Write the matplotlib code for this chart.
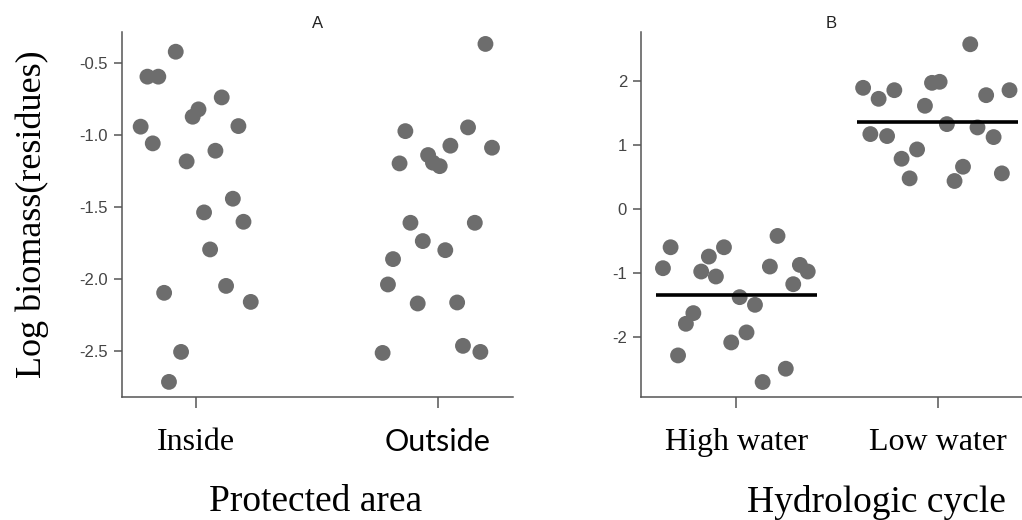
import numpy as np
import matplotlib
matplotlib.use("Agg")
import matplotlib.pyplot as plt

plt.rcParams['axes.unicode_minus'] = False

# panel A: protected area (x = jittered category position, y = residue)
cats_a = ["Inside", "Outside"]
inside_x = [-0.229, -0.201, -0.156, -0.084, -0.179, -0.014, 0.010, 0.106, -0.039, 0.175,
            0.080, 0.152, 0.033, 0.196, 0.058, -0.132, 0.124, 0.226, -0.062, -0.112]
inside_y = [-0.944, -0.597, -0.597, -0.424, -1.060, -0.875, -0.824, -0.741, -1.185, -0.940,
            -1.111, -1.444, -1.539, -1.604, -1.796, -2.097, -2.049, -2.160, -2.507, -2.715]
outside_x = [1.196, 0.865, 0.841, 0.959, 0.979, 1.007, 1.051, 1.124, 1.223, 0.886,
             0.937, 1.030, 1.152, 0.814, 0.793, 0.916, 1.079, 0.771, 1.103, 1.175]
outside_y = [-0.370, -0.975, -1.199, -1.141, -1.194, -1.218, -1.076, -0.949, -1.090, -1.611,
             -1.738, -1.801, -1.611, -1.863, -2.039, -2.171, -2.164, -2.514, -2.465, -2.507]

# panel B: hydrologic cycle
cats_b = ["High water", "Low water"]
high_x = [-0.364, -0.326, -0.174, -0.136, -0.101, -0.061, -0.213, -0.250, -0.289, -0.025,
          0.017, 0.093, 0.051, 0.131, 0.205, 0.167, 0.246, 0.283, 0.316, 0.355]
high_y = [-0.927, -0.599, -0.979, -0.745, -1.057, -0.599, -1.630, -1.797, -2.292, -2.089,
          -1.380, -1.500, -1.932, -2.708, -0.422, -0.901, -2.500, -1.177, -0.875, -0.979]
low_x = [0.630, 0.707, 0.785, 0.666, 0.749, 0.821, 0.861, 0.898, 0.937, 0.972,
         1.010, 1.046, 1.084, 1.126, 1.162, 1.198, 1.241, 1.278, 1.319, 1.357]
low_y = [1.896, 1.724, 1.859, 1.172, 1.141, 0.786, 0.479, 0.932, 1.615, 1.974,
         1.990, 1.328, 0.438, 0.661, 2.578, 1.276, 1.781, 1.125, 0.557, 1.859]
means_b = [-1.354, 1.359]

pt_color = '#6d6d6d'
spine_col = '#555555'
serif = ['Liberation Serif', 'DejaVu Serif']
sans = ['Liberation Sans', 'DejaVu Sans']

fig = plt.figure(figsize=(10.22, 5.2), dpi=100)
axA = fig.add_axes([0.1194, 0.2365, 0.3826, 0.702])
axB = fig.add_axes([0.6272, 0.2365, 0.3728, 0.702])

def style(ax):
    for s in ['top', 'right']:
        ax.spines[s].set_visible(False)
    for s in ['left', 'bottom']:
        ax.spines[s].set_color(spine_col)
        ax.spines[s].set_linewidth(1.1)
    ax.tick_params(axis='y', length=6, width=1.1, color=spine_col, labelsize=12,
                   labelcolor='#444444', pad=4)
    ax.tick_params(axis='x', length=8, width=1.1, color=spine_col, pad=14)
    for lab in ax.get_yticklabels():
        lab.set_family(sans)

# A
axA.scatter(inside_x, inside_y, s=130, color=pt_color, edgecolors='none')
axA.scatter(outside_x, outside_y, s=130, color=pt_color, edgecolors='none')
axA.set_xlim(-0.306, 1.31)
axA.set_ylim(-2.82, -0.287)
axA.set_yticks([-0.5, -1.0, -1.5, -2.0, -2.5])
axA.set_yticklabels(['%.1f' % v for v in [-0.5, -1.0, -1.5, -2.0, -2.5]])
axA.set_xticks([0, 1])
axA.set_xticklabels(cats_a)
style(axA)
xl = axA.get_xticklabels()
xl[0].set_family(serif)
xl[0].set_fontsize(23)
xl[1].set_family(['Liberation Sans Narrow', 'Lato'])
xl[1].set_fontsize(22)
axA.set_title('A', fontsize=12, family=sans, color='#222222', pad=3)
axA.set_xlabel('Protected area', fontsize=27, family=serif)
axA.xaxis.set_label_coords(0.494, -0.241)
axA.set_ylabel('Log biomass(residues)', fontsize=26, family=serif, labelpad=22)

# B
axB.scatter(high_x, high_y, s=130, color=pt_color, edgecolors='none')
axB.scatter(low_x, low_y, s=130, color=pt_color, edgecolors='none')
for i, m in enumerate(means_b):
    axB.plot([i - 0.4, i + 0.4], [m, m], color='black', lw=2.6, solid_capstyle='butt')
axB.set_xlim(-0.473, 1.419)
axB.set_ylim(-2.943, 2.77)
axB.set_yticks([2, 1, 0, -1, -2])
axB.set_xticks([0, 1])
axB.set_xticklabels(cats_b)
style(axB)
for lab in axB.get_xticklabels():
    lab.set_family(serif)
    lab.set_fontsize(23)
axB.set_title('B', fontsize=12, family=sans, color='#222222', pad=3)
axB.set_xlabel('Hydrologic cycle', fontsize=27, family=serif)
axB.xaxis.set_label_coords(0.617, -0.241)

fig.savefig('out.png', dpi=100)
